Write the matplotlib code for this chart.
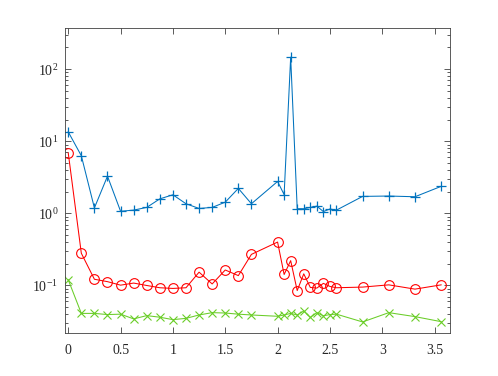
import matplotlib
matplotlib.use('Agg')
import matplotlib.pyplot as plt
import numpy as np

plt.rcParams['font.family'] = ['Liberation Serif', 'DejaVu Serif']
plt.rcParams['mathtext.fontset'] = 'custom'
plt.rcParams['mathtext.rm'] = 'Liberation Serif'

# sample positions
x = [0, 0.125, 0.25, 0.375, 0.5, 0.625, 0.75, 0.875, 1.0, 1.125, 1.25, 1.375,
     1.5, 1.625, 1.75, 2.0, 2.0625, 2.125, 2.1875, 2.25, 2.3125, 2.375, 2.4375,
     2.5, 2.5625, 2.8125, 3.0625, 3.3125, 3.5625]

# blue "+" series
blue = [13.5, 6.3, 1.19, 3.28, 1.07, 1.11, 1.21, 1.59, 1.81, 1.36, 1.17, 1.21,
        1.43, 2.22, 1.36, 2.77, 1.82, 146.6, 1.16, 1.16, 1.21, 1.26, 1.06,
        1.15, 1.11, 1.72, 1.74, 1.70, 2.37]

# red "o" series
red = [6.9, 0.28, 0.122, 0.113, 0.101, 0.108, 0.100, 0.093, 0.091, 0.093, 0.153,
       0.105, 0.164, 0.137, 0.27, 0.40, 0.142, 0.221, 0.085, 0.145, 0.094, 0.092,
       0.107, 0.097, 0.093, 0.095, 0.102, 0.089, 0.102]

# green "x" series
green = [0.12, 0.041, 0.041, 0.0395, 0.040, 0.0344, 0.0382, 0.0363, 0.0336,
         0.035, 0.039, 0.042, 0.0415, 0.040, 0.039, 0.0374, 0.039, 0.041, 0.039,
         0.0443, 0.036, 0.042, 0.038, 0.0395, 0.040, 0.0312, 0.042, 0.037, 0.0315]

xticks = [0, 0.5, 1, 1.5, 2, 2.5, 3, 3.5]
xticklabels = ['0', '0.5', '1', '1.5', '2', '2.5', '3', '3.5']

fig = plt.figure(figsize=(4.98, 3.76), dpi=100)
ax = fig.add_axes([0.1305, 0.1136, 0.7735, 0.811])

ax.plot(x, blue, '-+', color='#0072BD', lw=0.75, ms=7, mew=0.9)
ax.plot(x, red, '-o', color='#FF0000', lw=0.75, ms=7, mew=0.8, mfc='none')
ax.plot(x, green, '-x', color='#6ACD28', lw=0.75, ms=5.5, mew=0.8)

ax.set_yscale('log')
ax.set_xlim(-0.031, 3.649)
ax.set_ylim(10 ** -1.663, 10 ** 2.566)
ax.set_xticks(xticks)
ax.set_xticklabels(xticklabels)
ax.set_yticks([0.1, 1, 10, 100])
ax.set_yticklabels(['$10^{-1}$', '$10^{0}$', '$10^{1}$', '$10^{2}$'])

for s in ax.spines.values():
    s.set_color('#404040')
    s.set_linewidth(0.6)
ax.tick_params(which='both', direction='in', top=True, right=True,
               colors='#404040', labelcolor='#262626', labelsize=10, width=0.6)
ax.tick_params(which='major', length=4)
ax.tick_params(axis='x', which='major', pad=8)
ax.tick_params(axis='y', which='major', pad=5)
ax.tick_params(which='minor', length=2.2)
ax.tick_params(axis='x', which='minor', bottom=False, top=False)

fig.savefig('out.png', dpi=100)
